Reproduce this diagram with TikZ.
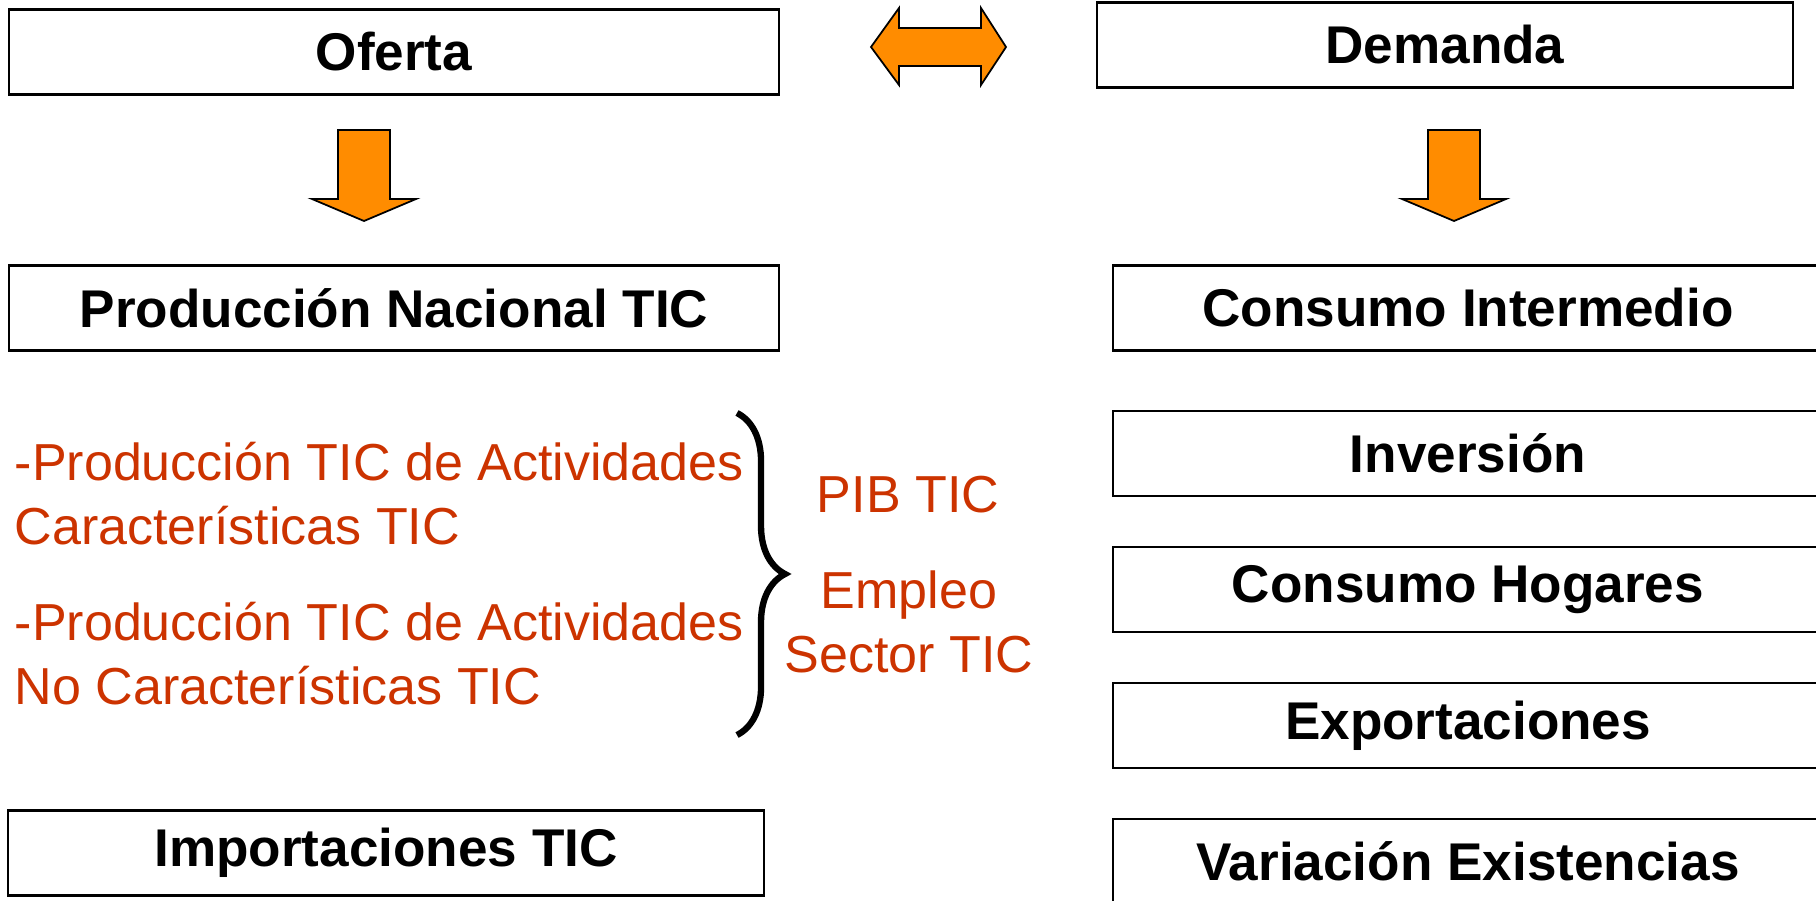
\documentclass[tikz,border=0pt]{standalone}
\usepackage{fontspec}
\setmainfont{Liberation Sans}
\usetikzlibrary{positioning,decorations.pathreplacing}
\definecolor{ticred}{RGB}{204,51,0}
\definecolor{ticorange}{RGB}{255,140,0}

\begin{document}
\begin{tikzpicture}[
    x=0.01cm, y=-0.01cm,
    box/.style={draw,line width=0.6pt,minimum height=0.85cm,inner sep=0pt,
        font=\fontsize{15.1}{18}\selectfont\bfseries},
    redtext/.style={text=ticred,inner sep=0pt,
        font=\fontsize{14.8}{18.2}\selectfont},
    blockarrow/.style={fill=ticorange,draw=black,line width=0.5pt,line join=miter}
]
\clip (0,0) rectangle (1816,900);

% Oferta
\node[box,minimum width=7.7cm] (oferta) at (394,52) {Oferta};
\node[box,minimum width=7.7cm] (prodnac) at (394,308) {Producción Nacional TIC};
\node[box,minimum width=7.55cm] (import) at (386,853) {Importaciones TIC};

% Demanda
\node[box,minimum width=6.95cm] (demanda) at (1445,45) {Demanda};
\node[box,minimum width=7.1cm] (consint) at (1468,308) {Consumo Intermedio};
\node[box,minimum width=7.1cm,below=0.58cm of consint] (inversion) {Inversión};
\node[box,minimum width=7.1cm,below=0.49cm of inversion] (hogares) {Consumo Hogares};
\node[box,minimum width=7.1cm,below=0.49cm of hogares] (export) {Exportaciones};
\node[box,minimum width=7.1cm,below=0.49cm of export] (variacion) {Variación Existencias};

% Flechas
\filldraw[blockarrow] (871,47) -- (899,8) -- (899,28) -- (981,28) -- (981,8)
    -- (1006,47) -- (981,85) -- (981,66) -- (899,66) -- (899,85) -- cycle;
\foreach \ax in {364,1454}
    \filldraw[blockarrow] (\ax-26,130) -- (\ax+26,130) -- (\ax+26,199) -- (\ax+52,199)
        -- (\ax,221) -- (\ax-52,199) -- (\ax-26,199) -- cycle;

% Produccion TIC
\node[redtext,align=left,anchor=base west] (caract) at (14,544)
    {-Producción TIC de Actividades\\Características TIC};
\node[redtext,align=left,anchor=base west] (nocaract) at (14,704)
    {-Producción TIC de Actividades\\No Características TIC};

\coordinate (bracetop) at (737,413);
\coordinate (bracebot) at (737,735);
\draw[decorate,decoration={brace,amplitude=0.48cm},line width=1.8pt] (bracetop) -- (bracebot);

\node[redtext,anchor=base] (pib) at (908,512) {PIB TIC};
\node[redtext,align=center,anchor=base] (empleo) at (909,672) {Empleo\\Sector TIC};

\end{tikzpicture}
\end{document}
